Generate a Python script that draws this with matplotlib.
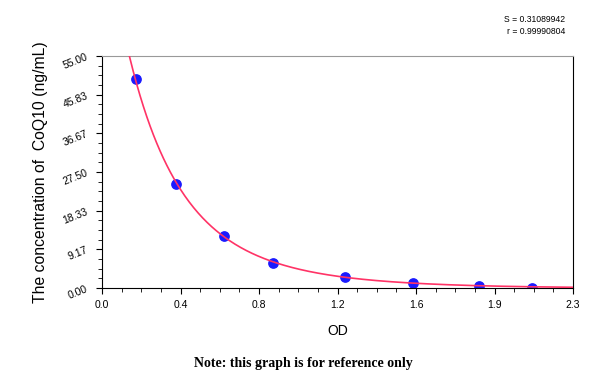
import numpy as np
import matplotlib.pyplot as plt
from matplotlib.ticker import FixedLocator, AutoMinorLocator

# standard points (OD, concentration ng/mL)
od = [0.164, 0.363, 0.596, 0.835, 1.187, 1.52, 1.84, 2.10]
conc = [49.6, 24.7, 12.3, 6.0, 2.7, 1.1, 0.55, 0.0]

x_ticks = [0.0, 2.3 / 6, 2 * 2.3 / 6, 3 * 2.3 / 6, 4 * 2.3 / 6, 5 * 2.3 / 6, 2.3]
x_labels = ['0.0', '0.4', '0.8', '1.2', '1.6', '1.9', '2.3']
y_ticks = [0.0, 9.17, 18.33, 27.5, 36.67, 45.83, 55.0]
y_labels = ['0.00', '9.17', '18.33', '27.50', '36.67', '45.83', '55.00']

s_text = 'S = 0.31089942'
r_text = 'r = 0.99990804'

plt.rcParams['font.family'] = ['Liberation Sans', 'DejaVu Sans']

# fitted curve: cubic in log(conc) over the non-zero standards
xo = np.array(od[:-1])
lo = np.log(np.array(conc[:-1]))
coef = np.polyfit(xo, lo, 3)
xf = np.linspace(0.12, 2.3, 400)
yf = np.exp(np.polyval(coef, xf))

fig = plt.figure(figsize=(6, 3.9), dpi=100)
ax = fig.add_axes([102 / 600, 1 - 288 / 390, 471 / 600, 232 / 390])

ax.scatter(od, conc, s=45, color='#1a1aff', zorder=2)
ax.plot(xf, yf, color='#ff3366', lw=1.2, zorder=3)

ax.set_xlim(0, 2.3)
ax.set_ylim(0, 55)
ax.xaxis.set_major_locator(FixedLocator(x_ticks))
ax.set_xticklabels(x_labels, fontsize=7.5)
ax.yaxis.set_major_locator(FixedLocator(y_ticks))
ax.set_yticklabels(y_labels, fontsize=7.5, rotation=22)
ax.xaxis.set_minor_locator(AutoMinorLocator(4))
ax.yaxis.set_minor_locator(AutoMinorLocator(4))
ax.tick_params(which='major', length=4, width=0.8, pad=5)
ax.tick_params(which='minor', length=3, width=0.6)
ax.spines['top'].set_color('#999999')
ax.spines['top'].set_linewidth(0.8)
for side in ['left', 'bottom', 'right']:
    ax.spines[side].set_linewidth(0.8)

ax.set_xlabel('OD', fontsize=10, labelpad=10)
ax.set_ylabel('The concentration of  CoQ10 (ng/mL)', fontsize=11.3)
ax.yaxis.set_label_coords(-0.115, 0.5)

fig.text(565 / 600, 1 - 20 / 390, s_text, fontsize=6.2, ha='right', va='center')
fig.text(565 / 600, 1 - 32 / 390, r_text, fontsize=6.2, ha='right', va='center')
fig.text(303 / 600, 1 - 364 / 390, 'Note: this graph is for reference only',
         fontsize=10, ha='center', va='center', weight='bold',
         family=['Liberation Serif', 'DejaVu Serif'])

fig.savefig('out.png', dpi=100)
